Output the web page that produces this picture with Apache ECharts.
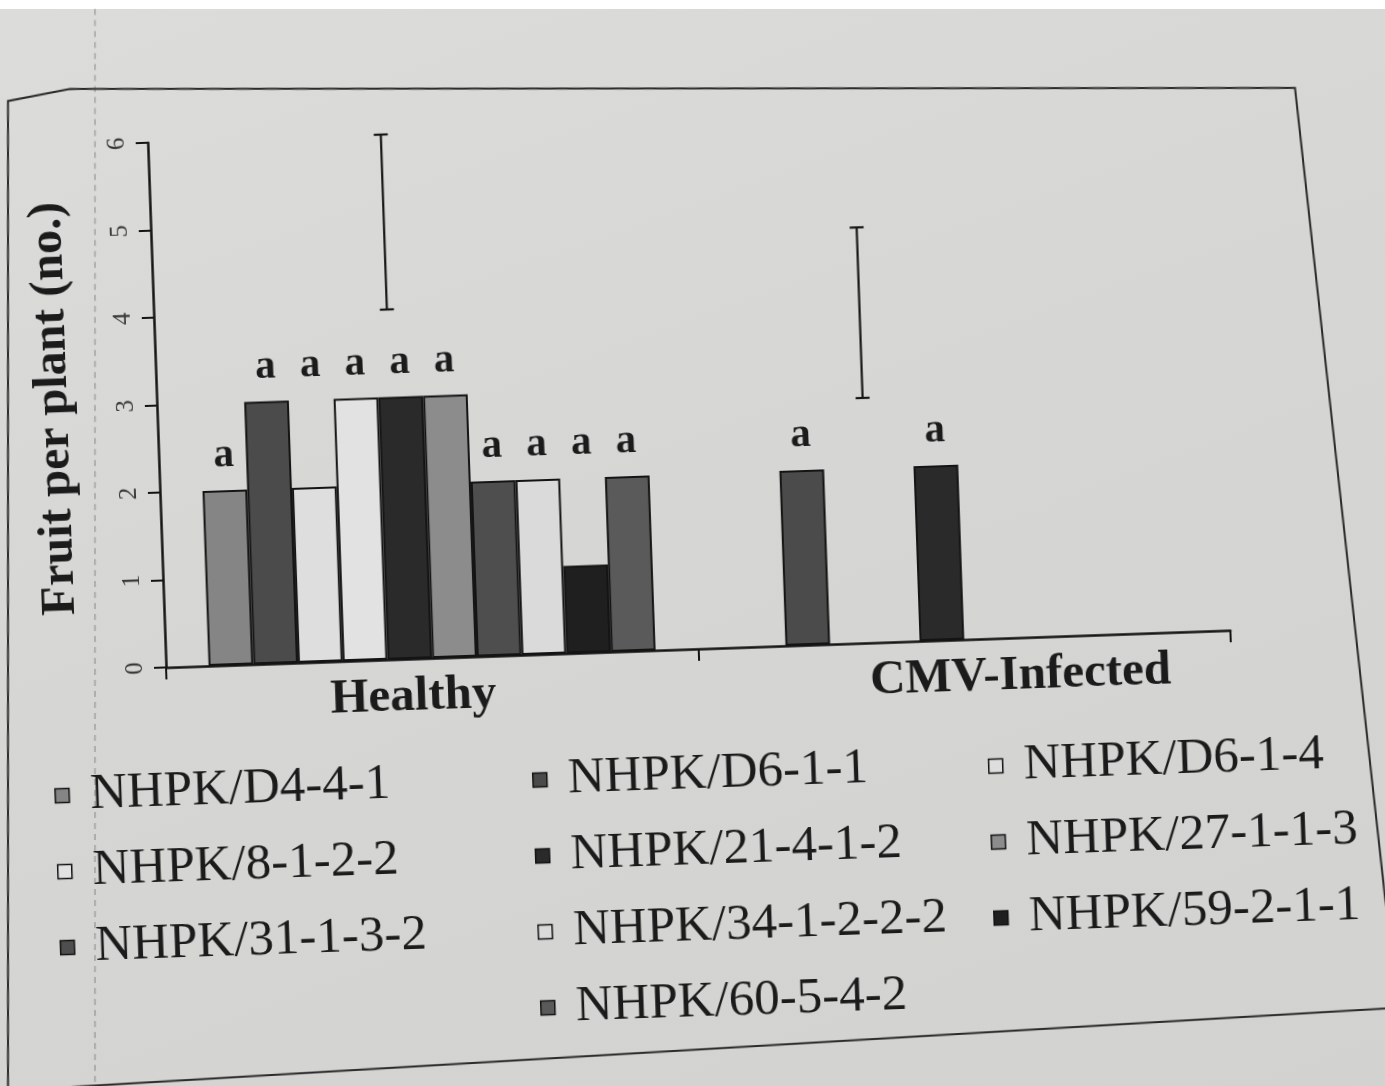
<!DOCTYPE html>
<html>
<head>
<meta charset="utf-8">
<title>Fruit per plant</title>
<script src="https://cdn.jsdelivr.net/npm/echarts@6/dist/echarts.min.js"></script>
<style>
  html, body { margin: 0; padding: 0; width: 1385px; height: 1086px; overflow: hidden; background: #ffffff; }
  #paper { position: absolute; left: 0; top: 9px; width: 1385px; height: 1077px;
           background: linear-gradient(160deg, #dcdcda 0%, #d6d6d4 45%, #d2d2d0 100%); }
  #chart { position: absolute; left: -80px; top: -80px; width: 1545px; height: 1246px;
           transform: rotate(-2deg); transform-origin: 772px 623px; }
</style>
</head>
<body>
<div id="paper"></div>
<div id="chart"></div>
<script>
// Fruit per plant (no.) for ten NHPK lines, healthy vs CMV-infected plants
const categories = ['Healthy', 'CMV-Infected'];
const lines = [
  'NHPK/D4-4-1', 'NHPK/D6-1-1', 'NHPK/D6-1-4', 'NHPK/8-1-2-2', 'NHPK/21-4-1-2',
  'NHPK/27-1-1-3', 'NHPK/31-1-3-2', 'NHPK/34-1-2-2-2', 'NHPK/59-2-1-1', 'NHPK/60-5-4-2'
];
const healthyFruit  = [2.0, 3.0, 2.0, 3.0, 3.0, 3.0, 2.0, 2.0, 1.0, 2.0];
const infectedFruit = [null, 2.0, null, null, 2.0, null, null, null, null, null];
const healthyLetters  = ['a', 'a', 'a', 'a', 'a', 'a', 'a', 'a', 'a', 'a'];
const infectedLetters = [null, 'a', null, null, 'a', null, null, null, null, null];
// LSD bars (low / high end) per category
const lsdLow  = [4.0, 2.8];
const lsdHigh = [6.0, 4.75];
// value axis ticks
const yMin = 0, yMax = 6, yStep = 1;

// ---- styling / layout ----
const FONT = '"Liberation Serif", "DejaVu Serif", serif';
const INK = '#1b1b1b';
const PAD = 80;                      // canvas overhang so the tilted sheet covers the page corners
const barColors = ['#858585', '#4b4b4b', '#dedede', '#e2e2e2', '#2a2a2a',
                   '#8c8c8c', '#4e4e4e', '#dadada', '#1f1f1f', '#5a5a5a'];
const GRID = { left: 162 + PAD, right: 158 + PAD, top: 124 + PAD, bottom: 437 + PAD };
// letters that float one axis unit higher than their own bar
const letterRaiseUnits = [[0, 0, 1, 0, 0, 0, 0, 0, 1, 0], [0, 0, 0, 0, 0, 0, 0, 0, 0, 0]];
// horizontal placement of the LSD bar within each category band (fraction of band)
const lsdShift = [-0.062, -0.175];
// legend columns: [left, top, items]
const legendCols = [
  [41,  743, ['NHPK/D4-4-1', 'NHPK/8-1-2-2', 'NHPK/31-1-3-2']],
  [519, 744, ['NHPK/D6-1-1', 'NHPK/21-4-1-2', 'NHPK/34-1-2-2-2', 'NHPK/60-5-4-2']],
  [975, 746, ['NHPK/D6-1-4', 'NHPK/27-1-1-3', 'NHPK/59-2-1-1']]
];

const unitPx = (1086 + 2 * PAD - GRID.top - GRID.bottom) / (yMax - yMin);
const letterSets = [healthyLetters, infectedLetters];
const valueSets = [healthyFruit, infectedFruit];

const barSeries = lines.map((name, s) => ({
  type: 'bar',
  name: name,
  barGap: '0%',
  barCategoryGap: '16%',
  itemStyle: { color: barColors[s], borderColor: '#141414', borderWidth: 2 },
  label: {
    show: true,
    position: 'top',
    distance: 14,
    fontFamily: FONT,
    fontWeight: 'bold',
    fontSize: 41,
    color: INK,
    formatter: p => letterSets[p.dataIndex][s] || ''
  },
  data: categories.map((c, ci) => {
    const v = valueSets[ci][s];
    const raise = letterRaiseUnits[ci][s];
    return raise ? { value: v, label: { offset: [0, -raise * unitPx] } } : { value: v };
  })
}));

const lsdSeries = {
  type: 'custom',
  name: 'LSD',
  silent: true,
  z: 5,
  data: categories.map((c, i) => [i, lsdLow[i], lsdHigh[i]]),
  renderItem: function (params, api) {
    const ci = api.value(0);
    const band = api.size([1, 0])[0];
    const x = api.coord([ci, 0])[0] + lsdShift[ci] * band;
    const yLo = api.coord([ci, api.value(1)])[1];
    const yHi = api.coord([ci, api.value(2)])[1];
    const cap = 7;
    const st = { stroke: '#161616', lineWidth: 2.2 };
    return {
      type: 'group',
      children: [
        { type: 'line', shape: { x1: x, y1: yHi, x2: x, y2: yLo }, style: st },
        { type: 'line', shape: { x1: x - cap, y1: yHi, x2: x + cap, y2: yHi }, style: st },
        { type: 'line', shape: { x1: x - cap, y1: yLo, x2: x + cap, y2: yLo }, style: st }
      ]
    };
  }
};

// page frame around the figure, given in page coordinates and mapped into the tilted canvas
const C = { x: 692, y: 543 }, ang = 2 * Math.PI / 180;
function toLocal(p) {
  const dx = p[0] - C.x, dy = p[1] - C.y;
  return [C.x + PAD + dx * Math.cos(ang) - dy * Math.sin(ang),
          C.y + PAD + dx * Math.sin(ang) + dy * Math.cos(ang)];
}
const framePaths = [
  [[8, 1090], [8, 101], [70, 89], [1295, 88], [1392, 960]],
  [[20, 1090], [1392, 1008]]
];
const frameGraphics = framePaths.map(path => ({
  type: 'polyline',
  silent: true,
  shape: { points: path.map(toLocal) },
  style: { stroke: '#2a2a2a', lineWidth: 2, fill: null }
}));
frameGraphics.push({
  type: 'polyline',
  silent: true,
  shape: { points: [[95, 9], [95, 1090]].map(toLocal) },
  style: { stroke: 'rgba(60,60,60,0.35)', lineWidth: 1.5, lineDash: [6, 5], fill: null }
});

const option = {
  backgroundColor: 'transparent',
  animation: false,
  textStyle: { fontFamily: FONT },
  grid: GRID,
  graphic: frameGraphics,
  legend: legendCols.map(([left, top, items]) => ({
    orient: 'vertical',
    left: left + PAD,
    top: top + PAD,
    selectedMode: false,
    data: items,
    icon: 'rect',
    itemWidth: 14,
    itemHeight: 14,
    itemGap: 25,
    itemStyle: { borderColor: '#141414', borderWidth: 1.5 },
    textStyle: { fontFamily: FONT, fontSize: 51, color: INK, lineHeight: 50, padding: [0, 0, 0, 16] }
  })),
  xAxis: {
    type: 'category',
    data: [
      { value: categories[0], textStyle: { padding: [0, 40, 0, 0] } },
      { value: categories[1], textStyle: { padding: [0, 0, 0, 110] } }
    ],
    axisLine: { lineStyle: { color: '#141414', width: 2.5 } },
    axisTick: { show: true, length: 12, lineStyle: { color: '#141414', width: 2 } },
    axisLabel: { fontFamily: FONT, fontWeight: 'bold', fontSize: 49, color: INK, margin: 14 }
  },
  yAxis: {
    type: 'value',
    min: yMin,
    max: yMax,
    interval: yStep,
    name: 'Fruit per plant (no.)',
    nameLocation: 'middle',
    nameGap: 78,
    nameTextStyle: { fontFamily: FONT, fontWeight: 'bold', fontSize: 48, color: INK },
    axisLine: { show: true, lineStyle: { color: '#141414', width: 2.5 } },
    axisTick: { show: true, length: 12, lineStyle: { color: '#141414', width: 2 } },
    splitLine: { show: false },
    axisLabel: { rotate: 90, fontFamily: FONT, fontSize: 25, color: '#3a3a3a', margin: 18 }
  },
  series: barSeries.concat([lsdSeries])
};

const chart = echarts.init(document.getElementById('chart'), null, { renderer: 'canvas' });
chart.setOption(option);
</script>
</body>
</html>
